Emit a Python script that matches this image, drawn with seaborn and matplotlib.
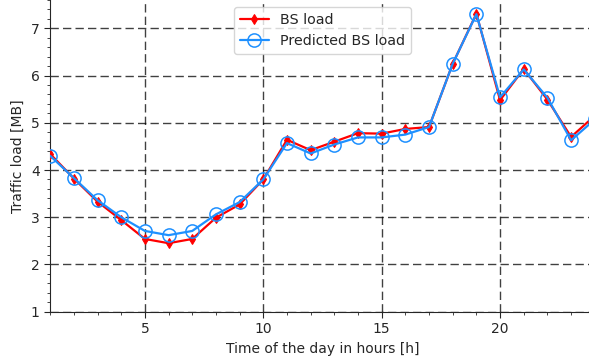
import matplotlib
matplotlib.use("Agg")
import matplotlib.pyplot as plt
from matplotlib.ticker import MultipleLocator
import numpy as np
import pandas as pd
import seaborn as sns

# Hourly base-station traffic, measured vs. predicted (MB)
hours = list(range(1, 25))
bs_load = [4.34, 3.82, 3.33, 2.94, 2.54, 2.45, 2.54, 2.99, 3.27, 3.80,
           4.64, 4.42, 4.60, 4.78, 4.77, 4.87, 4.91, 6.25, 7.31, 5.48,
           6.14, 5.49, 4.70, 5.15]
predicted_load = [4.30, 3.83, 3.36, 3.00, 2.71, 2.62, 2.71, 3.06, 3.32, 3.80,
                  4.57, 4.35, 4.54, 4.69, 4.69, 4.75, 4.91, 6.25, 7.30, 5.54,
                  6.13, 5.53, 4.63, 5.07]

df = pd.DataFrame({"hour": hours, "bs": bs_load, "pred": predicted_load})

sns.set_style("ticks")
plt.rcParams["font.family"] = ["DejaVu Sans"]

fig = plt.figure(figsize=(5.89, 3.62), dpi=100)
ax = fig.add_axes([0.0852, 0.139, 0.9246, 0.861])

sns.lineplot(data=df, x="hour", y="bs", ax=ax, color="red", linewidth=1.6,
             marker="d", markersize=5, markeredgecolor="red",
             label="BS load", zorder=3)
sns.lineplot(data=df, x="hour", y="pred", ax=ax, color="#1E90FF", linewidth=1.6,
             marker="o", markersize=9.5, markerfacecolor="none",
             markeredgecolor="#1E90FF", markeredgewidth=1.1,
             label="Predicted BS load", zorder=4)

ax.set_xlim(1, 24)
ax.set_ylim(1, 7.6)
ax.xaxis.set_major_locator(MultipleLocator(5))
ax.xaxis.set_minor_locator(MultipleLocator(1))
ax.yaxis.set_major_locator(MultipleLocator(1))
ax.yaxis.set_minor_locator(MultipleLocator(0.2))
ax.tick_params(axis="both", which="major", labelsize=10, length=4)
ax.tick_params(axis="both", which="minor", length=2.5)

ax.grid(True, which="major", color="black", linestyle=(0, (6, 3)),
        linewidth=1, alpha=0.75)
ax.set_axisbelow(True)

for side in ("top", "right"):
    ax.spines[side].set_visible(False)

ax.set_xlabel("Time of the day in hours [h]", fontsize=10)
ax.set_ylabel("Traffic load [MB]", fontsize=10)

ax.legend(loc="upper center", fontsize=10.3, frameon=True)

fig.savefig("out.png", dpi=100)
